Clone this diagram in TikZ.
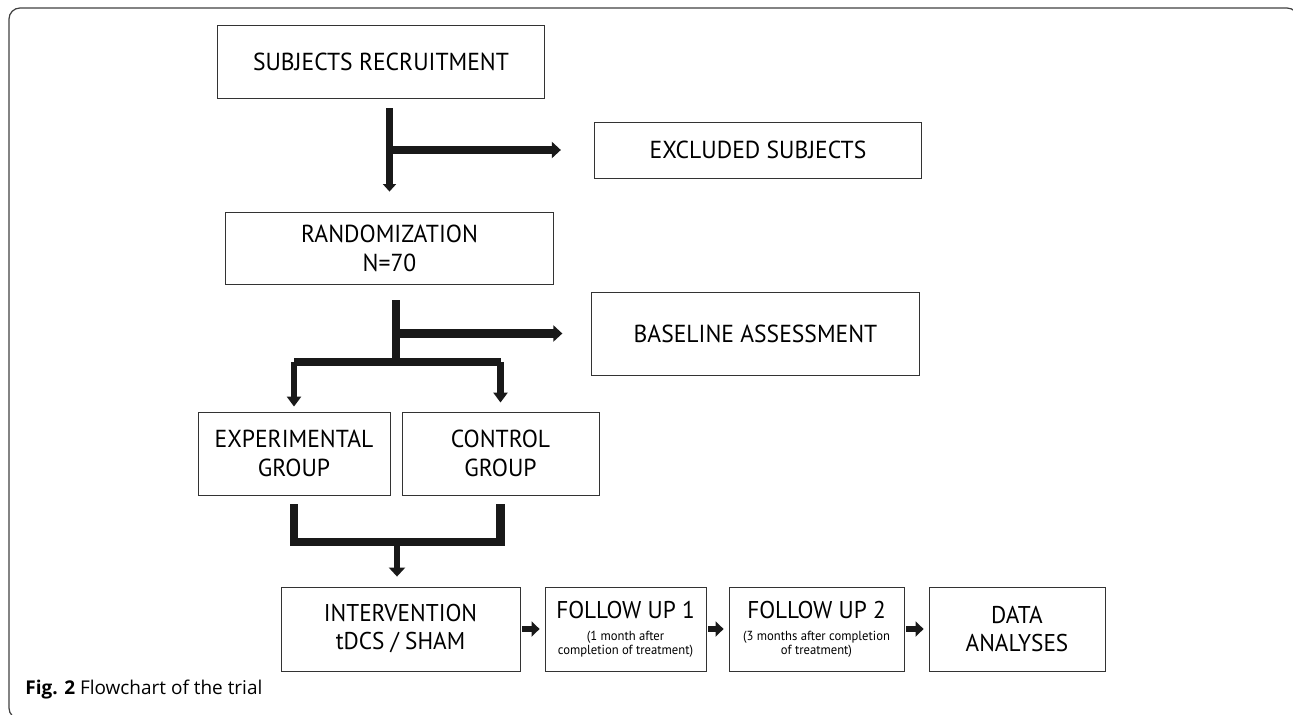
\documentclass[tikz,border=0pt]{standalone}
\usepackage{fontspec}
\setmainfont[FakeStretch=0.96]{PT Sans}
\newfontfamily\capfont{Open Sans}
\usetikzlibrary{arrows.meta}

\newcommand{\note}{\fontsize{7.5}{8.4}\selectfont}

\begin{document}
\begin{tikzpicture}[
    x=0.02cm, y=-0.02cm,
    stage/.style={draw=black!80,line width=0.5pt,align=center,inner sep=0pt,text=black,font=\fontsize{14}{16.5}\selectfont},
    wide/.style={stage,minimum width=6.55cm},
    group/.style={stage,minimum height=1.66cm},
    phase/.style={stage,minimum height=1.68cm,font=\fontsize{13.8}{16}\selectfont},
    bar/.style={line width=5pt,draw=black!90},
    pipe/.style={line width=3.8pt,draw=black!90},
    head/.style={-{Triangle[length=0.18cm,width=0.32cm]}},
    hop/.style={line width=3.6pt,draw=black!90,-{Triangle[length=0.16cm,width=0.3cm]},shorten <=0.04cm,shorten >=0.1cm}
]
    \useasboundingbox (0,0) rectangle (1293,715);
    \draw[black!75,line width=0.7pt,rounded corners=0.22cm] (9,8) rectangle (1298,719);

    % Enrolment
    \node[wide,minimum height=1.46cm] (recruit) at (381,61.5) {SUBJECTS RECRUITMENT};
    \node[wide,minimum height=1.12cm] (excluded) at (758,150) {EXCLUDED SUBJECTS};
    \node[wide,minimum height=1.44cm] (rand) at (389.5,248) {RANDOMIZATION\\N=70};
    \node[wide,minimum height=1.66cm] (baseline) at (755.5,333.5) {BASELINE ASSESSMENT};

    % Arms
    \node[group,minimum width=3.84cm] (exp) at (294,453.5) {EXPERIMENTAL\\GROUP};
    \node[group,minimum width=3.94cm] (ctrl) at (500.5,453.5) {CONTROL\\GROUP};

    % Treatment and follow up
    \node[phase,minimum width=4.78cm] (interv) at (400.5,629) {INTERVENTION\\tDCS / SHAM};
    \node[phase,minimum width=3.22cm] (fu1) at (625.5,629) {FOLLOW UP 1\\[-3.5pt]{\note (1 month after}\\[-8pt]{\note completion of treatment)}};
    \node[phase,minimum width=3.5cm] (fu2) at (816.5,629) {FOLLOW UP 2\\[-3.5pt]{\note (3 months after completion}\\[-8pt]{\note of treatment)}};
    \node[phase,minimum width=3.52cm] (data) at (1017,629) {DATA\\ANALYSES};

    \coordinate (split) at (396,362);
    \coordinate (merge) at (397,542);

    % Connections
    \draw[pipe,-{Triangle[length=0.15cm,width=0.26cm]},shorten <=0.2cm,shorten >=0.4cm] (rand.north |- recruit.south) -- (rand.north);
    \draw[bar,head,shorten >=0.66cm] (rand.north |- excluded.west) -- (excluded.west);
    \draw[bar,shorten <=0.32cm] (rand.south -| split) -- (split);
    \draw[bar,head,shorten >=0.58cm] (split |- baseline.west) -- (baseline.west);
    \draw[bar] (exp.north |- split) -- (ctrl.north |- split);
    \draw[pipe,-{Triangle[length=0.2cm,width=0.28cm]},shorten >=0.1cm] (exp.north |- split) -- (exp.north);
    \draw[pipe,-{Triangle[length=0.2cm,width=0.28cm]},shorten >=0.18cm] (ctrl.north |- split) -- (ctrl.north);
    \draw[bar,shorten <=0.18cm,shorten >=0.18cm] (exp.south) -- (exp.south |- merge) -- (ctrl.south |- merge) -- (ctrl.south);
    \draw[pipe,head,shorten >=0.2cm] (merge) -- (interv.north -| merge);
    \draw[hop] (interv) -- (fu1);
    \draw[hop] (fu1) -- (fu2);
    \draw[hop] (fu2) -- (data);

    \node[anchor=base west,inner sep=0pt,font=\capfont\fontsize{10.8}{12}\selectfont] (caption) at (25,694) {\textbf{Fig. 2} Flowchart of the trial};
\end{tikzpicture}
\end{document}
